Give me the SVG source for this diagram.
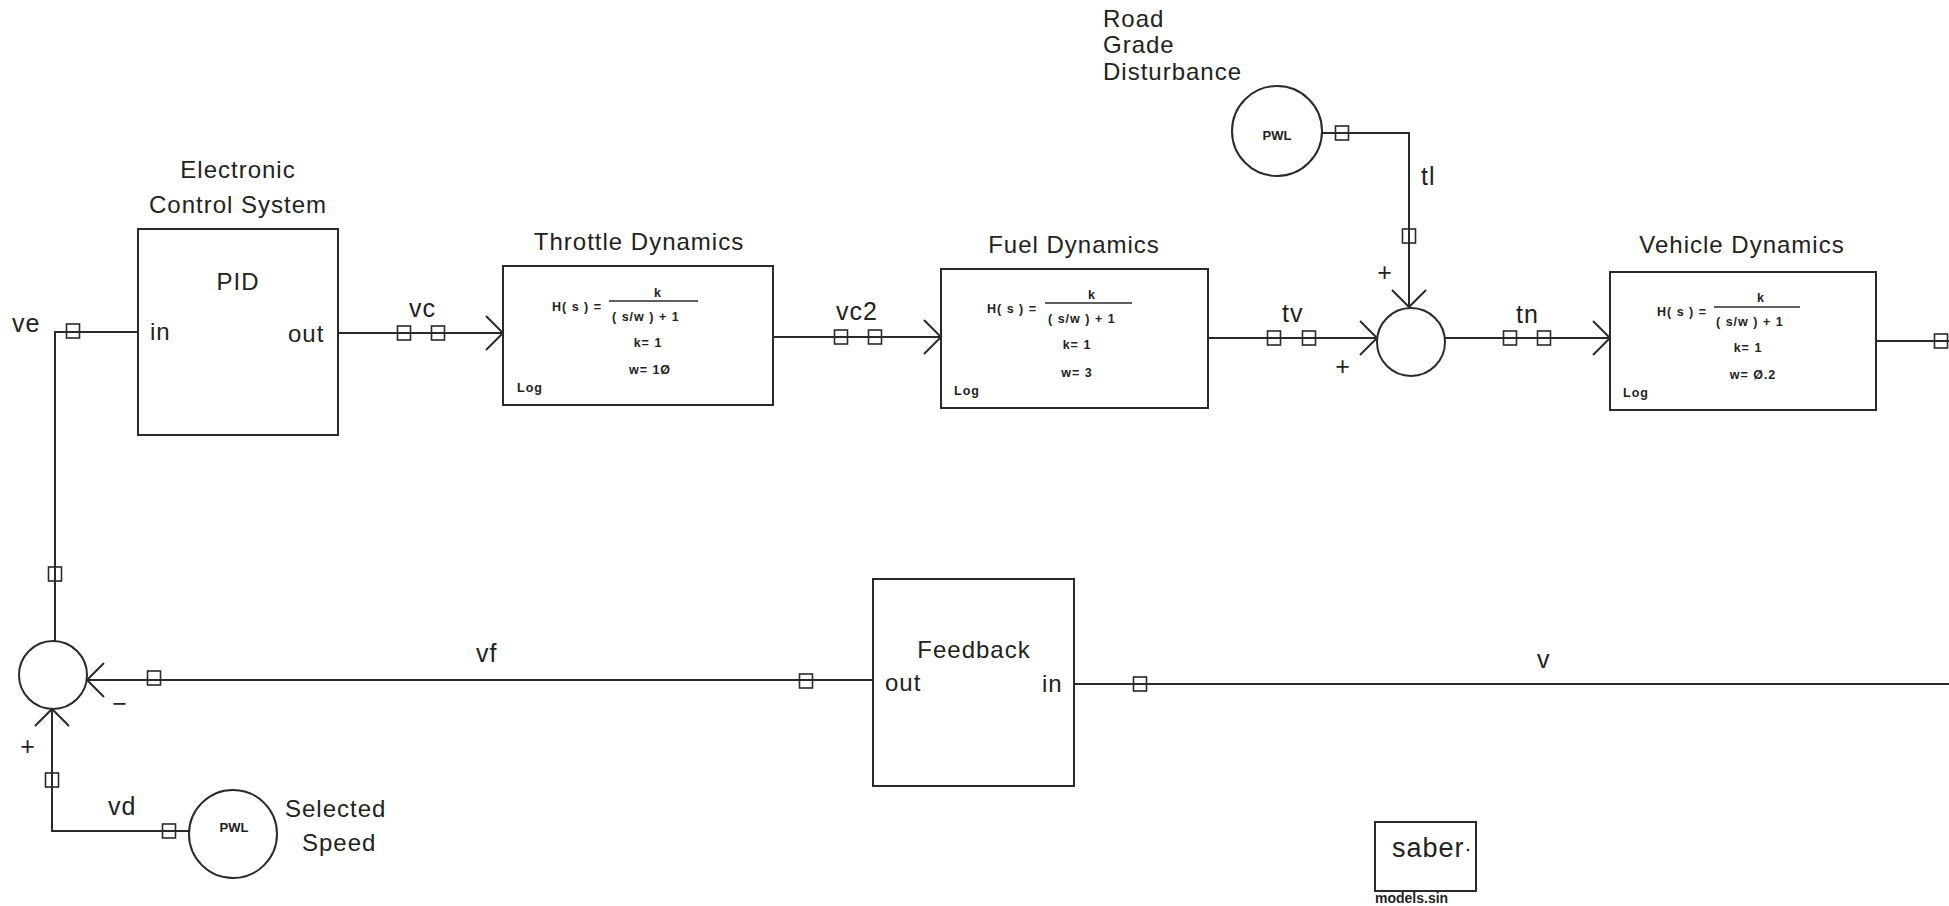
<svg xmlns="http://www.w3.org/2000/svg" xmlns:xlink="http://www.w3.org/1999/xlink" width="1949" height="906" viewBox="0 0 1949 906">
<style>
.bg{fill:#ffffff}
.box{fill:none;stroke:#2a2a2a;stroke-width:2}
.wire{fill:none;stroke:#2a2a2a;stroke-width:2}
.pin{fill:none;stroke:#2a2a2a;stroke-width:1.6}
.t{font-family:"Liberation Sans","DejaVu Sans",sans-serif;font-size:24px;fill:#222;letter-spacing:1px}
.lbl{font-family:"Liberation Sans","DejaVu Sans",sans-serif;font-size:25px;fill:#222;letter-spacing:1px}
.f{font-family:"Liberation Sans","DejaVu Sans",sans-serif;font-size:12.5px;font-weight:bold;fill:#222;letter-spacing:1px}
.s{font-family:"Liberation Sans","DejaVu Sans",sans-serif;font-size:13px;font-weight:bold;fill:#222}
.m{text-anchor:middle}
</style>
<defs>
<marker id="arr" viewBox="0 0 20 36" refX="18" refY="18" markerWidth="20" markerHeight="36" markerUnits="userSpaceOnUse" orient="auto">
<path d="M1,1 L18,18 L1,35" fill="none" stroke="#2a2a2a" stroke-width="2"/>
</marker>
<rect id="sq" x="-6.5" y="-7" width="13" height="14" class="pin"/>
</defs>
<rect class="bg" x="0" y="0" width="1949" height="906"/>

<g id="connectors">
<path class="wire" d="M138,332 H55 V641"/>
<path class="wire" d="M338,333 H503" marker-end="url(#arr)"/>
<path class="wire" d="M773,337 H941" marker-end="url(#arr)"/>
<path class="wire" d="M1208,338 H1377" marker-end="url(#arr)"/>
<path class="wire" d="M1322,133 H1409 V307" marker-end="url(#arr)"/>
<path class="wire" d="M1445,338 H1610" marker-end="url(#arr)"/>
<path class="wire" d="M1876,341 H1949"/>
<path class="wire" d="M1949,684 H1074"/>
<path class="wire" d="M873,680 H87" marker-end="url(#arr)"/>
<path class="wire" d="M189,831 H52 V709" marker-end="url(#arr)"/>
<use xlink:href="#sq" x="73" y="331"/>
<use xlink:href="#sq" x="55" y="574"/>
<use xlink:href="#sq" x="404" y="333"/>
<use xlink:href="#sq" x="438" y="333"/>
<use xlink:href="#sq" x="841" y="337"/>
<use xlink:href="#sq" x="875" y="337"/>
<use xlink:href="#sq" x="1274" y="338"/>
<use xlink:href="#sq" x="1309" y="338"/>
<use xlink:href="#sq" x="1342" y="133"/>
<use xlink:href="#sq" x="1409" y="236"/>
<use xlink:href="#sq" x="1510" y="338"/>
<use xlink:href="#sq" x="1544" y="338"/>
<use xlink:href="#sq" x="1941" y="341"/>
<use xlink:href="#sq" x="1140" y="684"/>
<use xlink:href="#sq" x="806" y="681"/>
<use xlink:href="#sq" x="154" y="678"/>
<use xlink:href="#sq" x="52" y="780"/>
<use xlink:href="#sq" x="169" y="831"/>
<text class="lbl" x="12" y="332">ve</text>
<text class="lbl" x="409" y="317">vc</text>
<text class="lbl" x="836" y="320">vc2</text>
<text class="lbl" x="1282" y="322">tv</text>
<text class="lbl" x="1516" y="323">tn</text>
<text class="lbl" x="1421" y="185">tl</text>
<text class="lbl" x="1537" y="668">v</text>
<text class="lbl" x="476" y="662">vf</text>
<text class="lbl" x="108" y="815">vd</text>
</g>

<g id="pid">
<text class="t m" x="238" y="178">Electronic</text>
<text class="t m" x="238" y="213">Control System</text>
<rect class="box" x="138" y="229" width="200" height="206"/>
<text class="t m" x="238" y="290">PID</text>
<text class="t" x="150" y="340">in</text>
<text class="t" x="288" y="342">out</text>
</g>

<g id="throttle">
<text class="t m" x="639" y="250">Throttle Dynamics</text>
<rect class="box" x="503" y="266" width="270" height="139"/>
<text class="f" x="552" y="311">H( s ) =</text>
<line class="wire" x1="609" y1="301" x2="698" y2="301" style="stroke-width:1.6"/>
<text class="f m" x="658" y="297">k</text>
<text class="f" x="612" y="321">( s/w ) + 1</text>
<text class="f m" x="648" y="347">k= 1</text>
<text class="f m" x="650" y="374">w= 1Ø</text>
<text class="f" x="517" y="392">Log</text>
</g>

<g id="fuel">
<text class="t m" x="1074" y="253">Fuel Dynamics</text>
<rect class="box" x="941" y="269" width="267" height="139"/>
<text class="f" x="987" y="313">H( s ) =</text>
<line class="wire" x1="1045" y1="303" x2="1132" y2="303" style="stroke-width:1.6"/>
<text class="f m" x="1092" y="299">k</text>
<text class="f" x="1048" y="323">( s/w ) + 1</text>
<text class="f m" x="1077" y="349">k= 1</text>
<text class="f m" x="1077" y="377">w= 3</text>
<text class="f" x="954" y="395">Log</text>
</g>

<g id="sum1">
<circle class="box" cx="1411" cy="342" r="34"/>
<text class="lbl m" x="1385" y="281">+</text>
<text class="lbl m" x="1343" y="375">+</text>
</g>

<g id="road">
<text class="t" x="1103" y="27">Road</text>
<text class="t" x="1103" y="53">Grade</text>
<text class="t" x="1103" y="80">Disturbance</text>
<circle class="box" cx="1277" cy="131" r="45"/>
<text class="s m" x="1277" y="140">PWL</text>
</g>

<g id="vehicle">
<text class="t m" x="1742" y="253">Vehicle Dynamics</text>
<rect class="box" x="1610" y="272" width="266" height="138"/>
<text class="f" x="1657" y="316">H( s ) =</text>
<line class="wire" x1="1714" y1="307" x2="1800" y2="307" style="stroke-width:1.6"/>
<text class="f m" x="1761" y="302">k</text>
<text class="f" x="1716" y="326">( s/w ) + 1</text>
<text class="f m" x="1748" y="352">k= 1</text>
<text class="f m" x="1753" y="379">w= Ø.2</text>
<text class="f" x="1623" y="397">Log</text>
</g>

<g id="feedback">
<rect class="box" x="873" y="579" width="201" height="207"/>
<text class="t m" x="974" y="658">Feedback</text>
<text class="t" x="885" y="691">out</text>
<text class="t" x="1042" y="692">in</text>
</g>

<g id="sum2">
<circle class="box" cx="53" cy="675" r="34"/>
<text class="lbl m" x="120" y="712">−</text>
<text class="lbl m" x="28" y="755">+</text>
</g>

<g id="speed">
<circle class="box" cx="233" cy="834" r="44"/>
<text class="s m" x="234" y="832">PWL</text>
<text class="t" x="285" y="817">Selected</text>
<text class="t" x="302" y="851">Speed</text>
</g>

<g id="saber">
<rect class="box" x="1375" y="822" width="101" height="69"/>
<text class="t" x="1392" y="857" style="font-size:27px">saber</text>
<circle cx="1468" cy="850" r="1.3" fill="#222"/>
<text class="s" x="1375" y="903" style="font-size:14px">models.sin</text>
</g>
</svg>
